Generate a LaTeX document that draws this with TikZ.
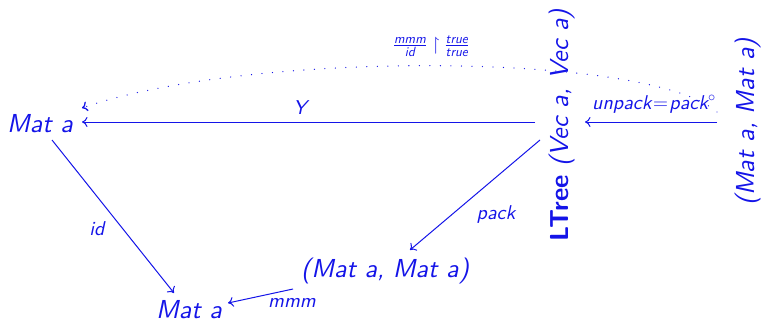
\documentclass[tikz,border=0pt]{standalone}
\usepackage{amsmath,amssymb}
\usepackage{fontspec}
\newfontfamily\objit{lmsans10-oblique.otf}
\newfontfamily\objbf{lmsans10-bold.otf}
\usetikzlibrary{arrows.meta,calc}
\definecolor{ink}{RGB}{20,20,232}
\begin{document}
\begin{tikzpicture}[x=1pt,y=-1pt,
  every node/.style={text=ink,inner sep=0pt},
  obj/.style={font=\objit\fontsize{26}{30}\selectfont},
  lbl/.style={font=\objit\fontsize{20}{24}\selectfont},
  fraclbl/.style={font=\objit\fontsize{19}{23}\selectfont},
  arr/.style={draw=ink,line width=1pt,-{To[length=5.5pt,width=10pt]}},
  dotarr/.style={draw=ink,line width=1.3pt,line cap=round,dash pattern=on 0.01pt off 10.5pt,-{To[length=5.5pt,width=10pt]}}]
\useasboundingbox (0,0) rectangle (761,322);
% objects
\node[obj,anchor=base] (A) at (40,132) {Mat a};
\node[obj,anchor=base] (E) at (189,318) {Mat a};
\node[obj,anchor=base] (D) at (385,277) {(Mat a, Mat a)};
\node[obj,anchor=base,rotate=90] (B) at (568,125) {{\objbf LTree} (Vec a, Vec a)};
\node[obj,anchor=base,rotate=90] (C) at (754,122) {(Mat a, Mat a)};
% arrows
\draw[arr] ($(B.base)+(-33,-3)$) -- ($(A.base)+(42,-10)$);
\draw[arr] ($(C.base)+(-37,0)$) -- ($(B.base)+(17,-3)$);
\draw[arr] ($(A.base)+(12,8)$) -- ($(E.base)+(-15,-25)$);
\draw[arr] ($(B.base)+(-28,15)$) -- ($(D.base)+(25,-27)$);
\draw[arr] ($(D.base)+(-92,12)$) -- ($(E.base)+(39,-15)$);
\draw[dotarr] ($(C.base)+(-37,-10)$) .. controls (650,52) and (250,50) .. ($(A.base)+(42,-24)$);
% labels
\node[lbl] (lY) at (300,108) {Y};
\node[lbl] (lU) at (654,104) {unpack\kern1.5pt$=$\kern1.5pt pack$^\circ$};
\node[lbl] (lI) at (97,229) {id};
\node[lbl] (lP) at (496,214) {pack};
\node[lbl] (lM) at (292,303) {mmm};
\node[fraclbl] (lF) at (431,46) {$\frac{\text{mmm}}{\text{id}}\upharpoonright\frac{\text{true}}{\text{true}}$};
\end{tikzpicture}
\end{document}
